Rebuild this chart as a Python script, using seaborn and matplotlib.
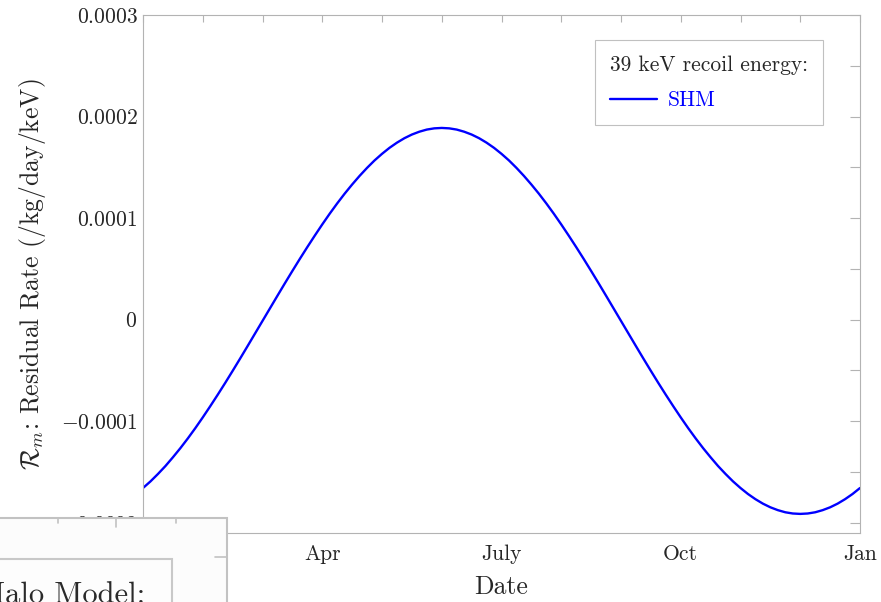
import numpy as np
import pandas as pd
import matplotlib
matplotlib.use("Agg")
import matplotlib.pyplot as plt
from matplotlib.patches import Rectangle
from matplotlib.lines import Line2D
import seaborn as sns

# Time axis in months from 1 January (eighth-month sampling)
month = np.linspace(0, 12, 97)

# Modulated residual rate, in units of 1e-4 /kg/day/keV
residual_e4 = [
    -1.657, -1.592, -1.519, -1.441, -1.355, -1.265, -1.169, -1.068,
    -0.962, -0.852, -0.739, -0.623, -0.504, -0.383, -0.260, -0.136,
    -0.012, 0.112, 0.236, 0.359, 0.480, 0.599, 0.715, 0.828,
    0.938, 1.044, 1.145, 1.241, 1.331, 1.416, 1.495, 1.568,
    1.633, 1.692, 1.743, 1.787, 1.823, 1.851, 1.872, 1.884,
    1.888, 1.884, 1.872, 1.851, 1.823, 1.787, 1.743, 1.692,
    1.633, 1.568, 1.495, 1.416, 1.331, 1.241, 1.145, 1.044,
    0.938, 0.828, 0.715, 0.599, 0.480, 0.359, 0.236, 0.112,
    -0.012, -0.136, -0.260, -0.383, -0.504, -0.623, -0.739, -0.852,
    -0.962, -1.068, -1.169, -1.265, -1.355, -1.441, -1.519, -1.592,
    -1.657, -1.716, -1.767, -1.811, -1.847, -1.875, -1.896, -1.908,
    -1.912, -1.908, -1.896, -1.875, -1.847, -1.811, -1.767, -1.716,
    -1.657,
]

series_name = "SHM"
legend_title = "39 keV recoil energy:"
xtick_pos = [0, 3, 6, 9, 12]
xtick_labels = ["Jan", "Apr", "July", "Oct", "Jan"]
ytick_vals = [-0.0002, -0.0001, 0.0, 0.0001, 0.0002, 0.0003]
ytick_labels = [r"$-0.0002$", r"$-0.0001$", r"$0$", r"$0.0001$", r"$0.0002$", r"$0.0003$"]
inset_caption = "Halo Model:"

sns.set_theme(style="white")
plt.rcParams["font.family"] = ["cmr10", "DejaVu Serif"]
plt.rcParams["mathtext.fontset"] = "cm"

W, H = 881, 602
fig = plt.figure(figsize=(W / 100, H / 100), dpi=100)
fig.patch.set_facecolor("white")


def fx(x):
    return x / W


def fy(y):
    return 1 - y / H


ax = fig.add_axes([fx(143), fy(533), 717 / W, 518 / H])
ax.set_facecolor("white")

df = pd.DataFrame({
    "month": month,
    "rate": np.array(residual_e4) * 1e-4,
})
sns.lineplot(data=df, x="month", y="rate", ax=ax, color="#0000ff",
             lw=1.7, label=series_name)

gray = "#b3b3b3"
ax.set_xlim(0, 12)
ax.set_ylim(-0.00021, 0.0003)
ax.set_xticks(xtick_pos)
ax.set_xticklabels(xtick_labels)
ax.set_xticks(range(13), minor=True)
ax.set_yticks(ytick_vals)
ax.set_yticklabels(ytick_labels)
ax.set_yticks([-0.00015, -0.00005, 0.00005, 0.00015, 0.00025], minor=True)

ax.tick_params(which="both", direction="in", top=True, right=True,
               color=gray, width=0.8)
ax.tick_params(axis="x", which="both", length=5, pad=8, labelsize=15.5)
ax.tick_params(axis="y", which="both", length=7, pad=4, labelsize=15.5)
for s in ax.spines.values():
    s.set_color(gray)
    s.set_linewidth(0.8)

ax.set_xlabel("Date", fontsize=18.5)
ax.xaxis.set_label_coords(0.5, (533 - 575) / 518)
ax.set_ylabel(r"$\mathcal{R}_m$: Residual Rate (/kg/day/keV)", fontsize=18.5)
ax.yaxis.set_label_coords((48 - 143) / 717, 0.5)

leg = ax.legend(title=legend_title, loc="upper right",
                bbox_to_anchor=((823 - 143) / 717, (533 - 40) / 518),
                borderaxespad=0, frameon=True, fancybox=False,
                edgecolor="#c0c0c0", fontsize=15.5, title_fontsize=15.5,
                alignment="left", handlelength=2.2, handletextpad=0.5,
                labelspacing=0.75, borderpad=0.7, framealpha=1)
leg.get_frame().set_linewidth(0.8)
for t in leg.get_texts():
    t.set_color("#0000ff")
for h in leg.get_lines():
    h.set_linewidth(1.7)

# Neighbouring panel peeking in at the lower left
panel_gray = "#c2c2c2"
fig.add_artist(Rectangle((fx(-5), fy(612)), 232 / W, 94 / H,
                         transform=fig.transFigure, facecolor="#fcfcfc",
                         edgecolor=panel_gray, lw=1.5, zorder=10))
for x, ln in [(58, 5), (116, 9), (176, 5)]:
    fig.add_artist(Line2D([fx(x), fx(x)], [fy(518), fy(518 + ln)],
                          transform=fig.transFigure, color=panel_gray,
                          lw=1.2, zorder=11))
fig.add_artist(Line2D([fx(215), fx(227)], [fy(557), fy(557)],
                      transform=fig.transFigure, color=panel_gray,
                      lw=1.2, zorder=11))
fig.add_artist(Rectangle((fx(-5), fy(612)), 177 / W, 53 / H,
                         transform=fig.transFigure, facecolor="#fdfdfd",
                         edgecolor="#c8c8c8", lw=1.5, zorder=11))
fig.text(fx(-18), fy(603), inset_caption, fontsize=22, color="#2a2a2a",
         ha="left", va="baseline", zorder=12)

fig.savefig("out.png", dpi=100)
